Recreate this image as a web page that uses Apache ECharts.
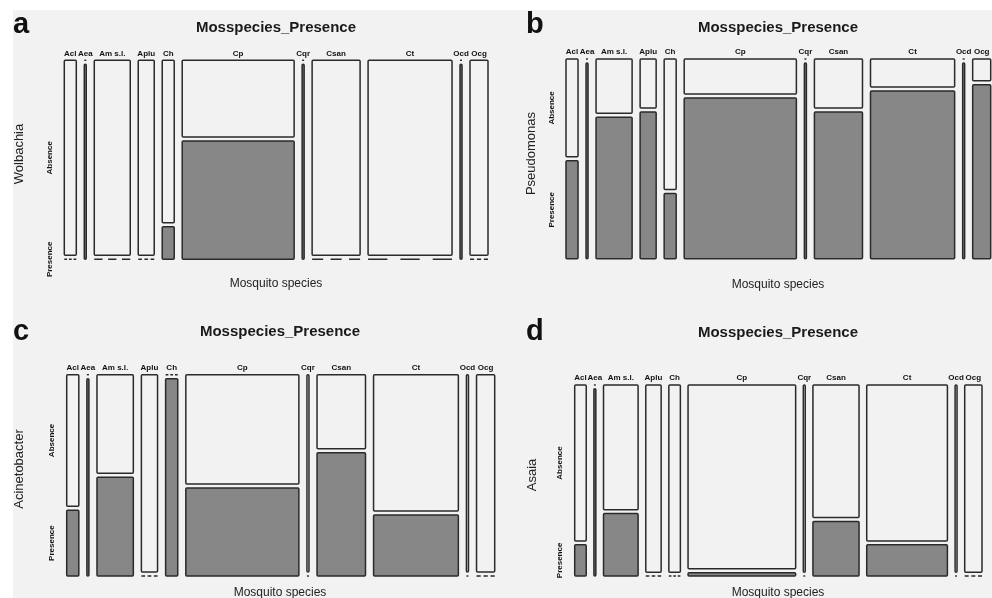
<!DOCTYPE html>
<html>
<head>
<meta charset="utf-8">
<script src="https://cdn.jsdelivr.net/npm/echarts@6/dist/echarts.min.js"></script>
<style>
  html, body { margin: 0; padding: 0; background: #ffffff; }
  #chart { width: 992px; height: 598px; }
</style>
</head>
<body>
<div id="chart"></div>
<script>
// ---- data ----
const species = ['Acl', 'Aea', 'Am s.l.', 'Aplu', 'Ch', 'Cp', 'Cqr', 'Csan', 'Ct', 'Ocd', 'Ocg'];
const speciesCounts = [6, 1, 18, 8, 6, 56, 1, 24, 42, 1, 9];
const wolbachiaPresence = [0, 1, 0, 0, 1, 34, 1, 0, 0, 1, 0];
const pseudomonasPresence = [3, 1, 13, 6, 2, 46, 1, 18, 36, 1, 8];
const acinetobacterPresence = [2, 1, 9, 0, 6, 25, 0, 15, 13, 0, 0];
const asaiaPresence = [1, 1, 6, 0, 0, 1, 0, 7, 7, 0, 0];
const bacteria = ['Wolbachia', 'Pseudomonas', 'Acinetobacter', 'Asaia'];
const panelLetters = ['a', 'b', 'c', 'd'];
const levels = ['Absence', 'Presence'];
const plotTitle = 'Mosspecies_Presence';
const xTitle = 'Mosquito species';

// ---- layout / style ----
const GAP_X = 4;      // gap between columns, in count units
const GAP_Y = 0.02;   // gap between cells, fraction of height
const FILL_P = '#878787';
const FILL_A = '#f2f2f2';
const EDGE = '#2a2a2a';
const EDGE_W = 1.5;

const totalX = speciesCounts.reduce((a, b) => a + b, 0) + GAP_X * (speciesCounts.length - 1);

function buildItems(presence) {
  let x = 0;
  return speciesCounts.map((n, i) => {
    const item = [x, x + n, presence[i] / n, i];
    x += n + GAP_X;
    return item;
  });
}

function renderItem(params, api) {
  const x0 = api.value(0), x1 = api.value(1), p = api.value(2), i = api.value(3);
  const bl = api.coord([x0, 0]);
  const tr = api.coord([x1, 1]);
  const left = bl[0], right = tr[0], bottom = bl[1], top = tr[1];
  const w = right - left;
  const yPresTop = api.coord([x0, p * (1 - GAP_Y)])[1];
  const yAbsBot = api.coord([x0, p * (1 - GAP_Y) + GAP_Y])[1];
  const children = [];
  function zeroLine(y) {
    if (w < 5) {
      children.push({ type: 'line', shape: { x1: left, y1: y, x2: right, y2: y },
        style: { stroke: EDGE, lineWidth: 1.4 } });
    } else {
      children.push({ type: 'line', shape: { x1: left, y1: y, x2: right, y2: y },
        style: { stroke: EDGE, lineWidth: 1.4, lineDash: [w * 0.23, w * 0.155] } });
    }
  }
  if (p > 0) {
    children.push({ type: 'rect', shape: { x: left, y: yPresTop, width: w, height: bottom - yPresTop, r: 1 },
      style: { fill: FILL_P, stroke: EDGE, lineWidth: EDGE_W } });
  } else {
    zeroLine(bottom);
  }
  if (p < 1) {
    children.push({ type: 'rect', shape: { x: left, y: top, width: w, height: yAbsBot - top, r: 1 },
      style: { fill: FILL_A, stroke: EDGE, lineWidth: EDGE_W } });
  } else {
    zeroLine(top);
  }
  children.push({ type: 'text', style: { text: species[i], x: (left + right) / 2, y: top - 3,
    textAlign: 'center', textVerticalAlign: 'bottom', fontSize: 8, fontWeight: 'bold',
    fontFamily: 'Liberation Sans', fill: '#111' } });
  if (i === 0) {
    const lx = left - 14.5;
    children.push({ type: 'text', x: lx, y: (top + yAbsBot) / 2, rotation: Math.PI / 2,
      style: { text: levels[0], x: 0, y: 0, textAlign: 'center', textVerticalAlign: 'middle',
        fontSize: 8, fontWeight: 'bold', fontFamily: 'Liberation Sans', fill: '#111' } });
    children.push({ type: 'text', x: lx, y: (yPresTop + bottom) / 2, rotation: Math.PI / 2,
      style: { text: levels[1], x: 0, y: 0, textAlign: 'center', textVerticalAlign: 'middle',
        fontSize: 8, fontWeight: 'bold', fontFamily: 'Liberation Sans', fill: '#111' } });
  }
  return { type: 'group', children: children };
}

const grids = [
  { left: 64.3, top: 60.3, width: 423.7, height: 199 },
  { left: 566, top: 59, width: 424.7, height: 199.7 },
  { left: 66.7, top: 374.7, width: 428, height: 201.3 },
  { left: 574.7, top: 385, width: 407.3, height: 191 }
];
const presenceSets = [wolbachiaPresence, pseudomonasPresence, acinetobacterPresence, asaiaPresence];

// panel texts (positions)
const letterPos = [[13, 25], [526, 24.5], [13, 332], [526, 331.5]];
const titlePos = [[276, 28], [778, 28], [280, 332], [778, 333]];
const xTitlePos = [[276, 284], [778, 285], [280, 592.5], [778, 593]];
const yTitlePos = [[19, 154], [531, 153.5], [19.3, 469], [532.7, 475]];

const graphic = [
  { type: 'rect', z: -10, silent: true, shape: { x: 13, y: 10, width: 979, height: 588 }, style: { fill: '#f2f2f2' } }
];
for (let k = 0; k < 4; k++) {
  graphic.push({ type: 'text', style: { text: panelLetters[k], x: letterPos[k][0], y: letterPos[k][1],
    textAlign: 'left', textVerticalAlign: 'middle', fontSize: 29, fontWeight: 'bold', fontFamily: 'Liberation Sans', fill: '#111' } });
  graphic.push({ type: 'text', style: { text: plotTitle, x: titlePos[k][0], y: titlePos[k][1],
    textAlign: 'center', textVerticalAlign: 'middle', fontSize: 15, fontWeight: 'bold', fontFamily: 'Liberation Sans', fill: '#1a1a1a' } });
  graphic.push({ type: 'text', style: { text: xTitle, x: xTitlePos[k][0], y: xTitlePos[k][1],
    textAlign: 'center', textVerticalAlign: 'middle', fontSize: 12, fontFamily: 'Liberation Sans', fill: '#222' } });
  graphic.push({ type: 'text', x: yTitlePos[k][0], y: yTitlePos[k][1], rotation: Math.PI / 2,
    style: { text: bacteria[k], x: 0, y: 0, textAlign: 'center', textVerticalAlign: 'middle',
      fontSize: 13, fontFamily: 'Liberation Sans', fill: '#222' } });
}

const chart = echarts.init(document.getElementById('chart'), null, { renderer: 'canvas' });
chart.setOption({
  backgroundColor: '#ffffff',
  animation: false,
  grid: grids,
  xAxis: grids.map((g, k) => ({ type: 'value', gridIndex: k, min: 0, max: totalX, show: false })),
  yAxis: grids.map((g, k) => ({ type: 'value', gridIndex: k, min: 0, max: 1, show: false })),
  graphic: graphic,
  series: presenceSets.map((pres, k) => ({
    type: 'custom',
    xAxisIndex: k,
    yAxisIndex: k,
    clip: false,
    renderItem: renderItem,
    encode: { x: [0, 1], y: 2 },
    data: buildItems(pres)
  }))
});
</script>
</body>
</html>
